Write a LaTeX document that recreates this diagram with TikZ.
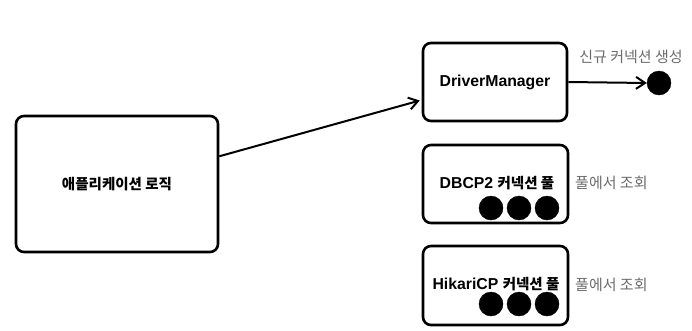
\documentclass[tikz,border=0pt]{standalone}
\usepackage{fontspec}
\setmainfont{Liberation Sans}
\newfontfamily\kr{Noto Sans CJK KR}
\usetikzlibrary{arrows.meta,calc}
\begin{document}
\begin{tikzpicture}[x=1pt,y=-1pt,
  box/.style={draw=black,line width=2.6pt,rounded corners=8pt,fill=white,inner sep=0pt},
  dot/.style={circle,fill=black,draw=black,minimum size=24pt,inner sep=0pt},
  lbl/.style={font=\bfseries\fontsize{15.8}{18}\selectfont,inner sep=0pt},
  klbl/.style={font=\kr\bfseries\fontsize{14.5}{17}\selectfont,inner sep=0pt},
  note/.style={text=black!58,font=\kr\fontsize{15}{17}\selectfont,inner sep=0pt},
  conn/.style={line width=2pt,-{Straight Barb[length=9pt,width=12pt,line width=2pt]}}]
\useasboundingbox (0,0) rectangle (692,330);
\node[box,minimum width=202pt,minimum height=136pt] (app) at (117,184) {};
\node[klbl] (applbl) at (app.center) {애플리케이션 로직};
\node[box,minimum width=144pt,minimum height=78pt] (dm) at (495,82) {};
\node[lbl] (dmlbl) at (dm.center) {DriverManager};
\node[box,minimum width=145pt,minimum height=78pt] (dbcp) at (495.5,184) {};
\node[lbl] (dbcplbl) at (497,183) {DBCP2 {\kr\bfseries\fontsize{14.5}{17}\selectfont 커넥션 풀}};
\node[dot] (d1) at (491,208) {};
\node[dot] (d2) at (519,208) {};
\node[dot] (d3) at (547,208) {};
\node[box,minimum width=145pt,minimum height=79pt] (hk) at (495.5,285.5) {};
\node[lbl] (hklbl) at (496,284) {HikariCP {\kr\bfseries\fontsize{14.5}{17}\selectfont 커넥션 풀}};
\node[dot] (h1) at (491,304) {};
\node[dot] (h2) at (519,304) {};
\node[dot] (h3) at (547,304) {};
\node[dot] (new) at (659,83) {};
\node[note] (newlbl) at (631,57) {신규 커넥션 생성};
\node[note,anchor=west] (n1) at (575,183) {풀에서 조회};
\node[note,anchor=west] (n2) at (575,285) {풀에서 조회};
\draw[conn] ($(app.north east)!0.3!(app.south east)$) -- ($(dm.north west)!0.73!(dm.south west)+(-2,0)$);
\draw[conn] (dm.east) -- (new.west);
\end{tikzpicture}
\end{document}
